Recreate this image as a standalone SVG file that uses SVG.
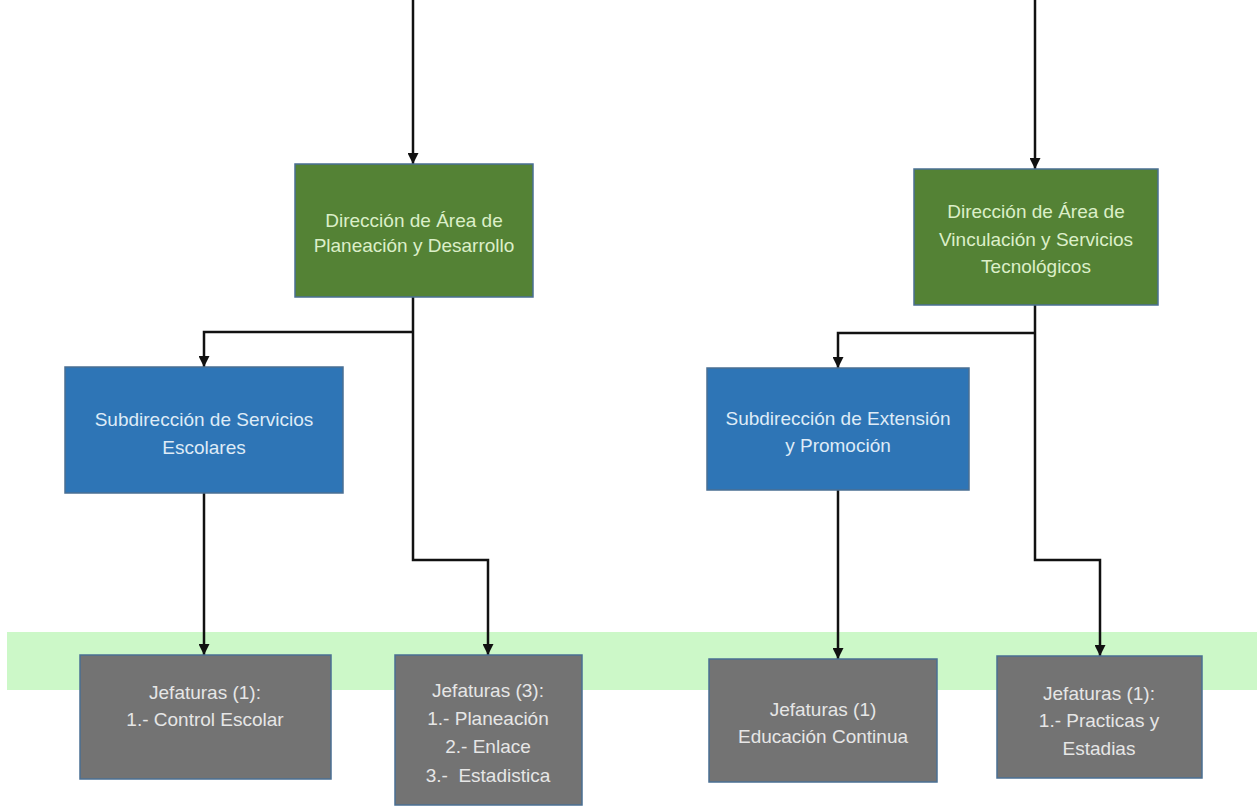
<svg xmlns="http://www.w3.org/2000/svg" width="1257" height="807" viewBox="0 0 1257 807">
<style>
.box{stroke:#4a6f93;stroke-width:1.5}
.g{fill:#548235}
.b{fill:#2e75b6}
.k{fill:#737373}
text{font-family:"Liberation Sans",Arial,sans-serif;font-size:19px;text-anchor:middle}
.tg{fill:#dcefc9}
.tb{fill:#deebf7}
.tk{fill:#e6e6e6}
.c{fill:none;stroke:#111;stroke-width:2.5}
</style>
<defs>
<marker id="ah" viewBox="0 0 10 10" refX="10" refY="5" markerWidth="4.4" markerHeight="4.4" markerUnits="strokeWidth" orient="auto">
<path d="M0,0 L10,5 L0,10 Z" fill="#111"/>
</marker>
</defs>
<rect x="7" y="632" width="1250" height="58" fill="#ccf8c8"/>
<g id="connectors">
<path class="c" d="M413,0 V164" marker-end="url(#ah)"/>
<path class="c" d="M413,297 V560 H488 V655" marker-end="url(#ah)"/>
<path class="c" d="M413,332 H204 V367" marker-end="url(#ah)"/>
<path class="c" d="M204,493 V655" marker-end="url(#ah)"/>
<path class="c" d="M1035,0 V169" marker-end="url(#ah)"/>
<path class="c" d="M1035,305 V560 H1100 V656" marker-end="url(#ah)"/>
<path class="c" d="M1035,333 H838 V368" marker-end="url(#ah)"/>
<path class="c" d="M838,490 V659" marker-end="url(#ah)"/>
</g>
<g id="dir-planeacion">
<rect class="box g" x="295" y="164" width="238" height="133"/>
<text class="tg" x="414" y="227">Dirección de Área de</text>
<text class="tg" x="414" y="252">Planeación y Desarrollo</text>
</g>
<g id="dir-vinculacion">
<rect class="box g" x="914" y="169" width="244" height="136"/>
<text class="tg" x="1036" y="218">Dirección de Área de</text>
<text class="tg" x="1036" y="246">Vinculación y Servicios</text>
<text class="tg" x="1036" y="273">Tecnológicos</text>
</g>
<g id="sub-escolares">
<rect class="box b" x="65" y="367" width="278" height="126"/>
<text class="tb" x="204" y="426">Subdirección de Servicios</text>
<text class="tb" x="204" y="454">Escolares</text>
</g>
<g id="sub-extension">
<rect class="box b" x="707" y="368" width="262" height="122"/>
<text class="tb" x="838" y="425">Subdirección de Extensión</text>
<text class="tb" x="838" y="452">y Promoción</text>
</g>
<g id="jef-control">
<rect class="box k" x="80" y="655" width="251" height="124"/>
<text class="tk" x="205" y="699">Jefaturas (1):</text>
<text class="tk" x="205" y="726">1.- Control Escolar</text>
</g>
<g id="jef-planeacion">
<rect class="box k" x="395" y="655" width="187" height="150"/>
<text class="tk" x="488" y="697">Jefaturas (3):</text>
<text class="tk" x="488" y="725">1.- Planeación</text>
<text class="tk" x="488" y="753">2.- Enlace</text>
<text class="tk" x="488" y="782" xml:space="preserve">3.-  Estadistica</text>
</g>
<g id="jef-educacion">
<rect class="box k" x="709" y="659" width="228" height="123"/>
<text class="tk" x="823" y="716">Jefaturas (1)</text>
<text class="tk" x="823" y="743">Educación Continua</text>
</g>
<g id="jef-practicas">
<rect class="box k" x="997" y="656" width="205" height="122"/>
<text class="tk" x="1099" y="700">Jefaturas (1):</text>
<text class="tk" x="1099" y="727">1.- Practicas y</text>
<text class="tk" x="1099" y="755">Estadias</text>
</g>
</svg>
